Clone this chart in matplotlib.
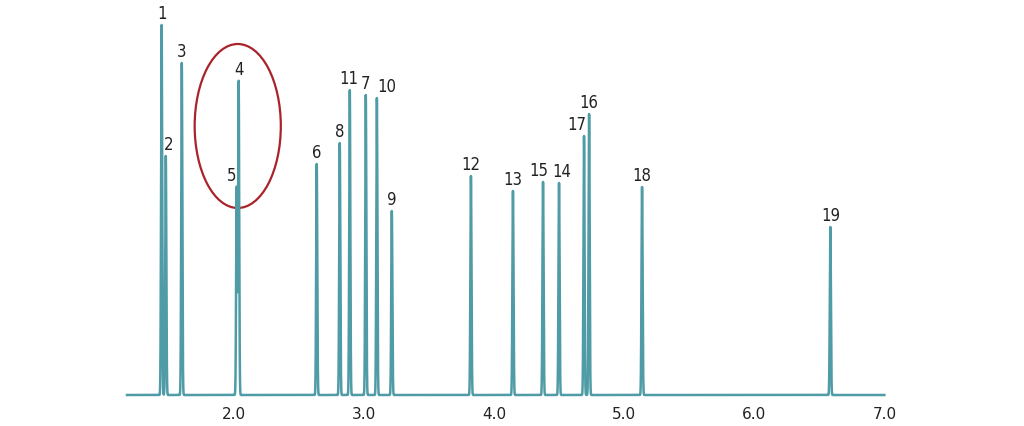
import numpy as np
import matplotlib
matplotlib.use("Agg")
import matplotlib.pyplot as plt
from matplotlib.patches import Ellipse

# peak table
peak_ids = ["1", "2", "3", "4", "5", "6", "8", "11", "7", "10", "9",
            "12", "13", "15", "14", "17", "16", "18", "19"]
rt_min = [1.446, 1.478, 1.601, 2.038, 2.023, 2.638, 2.815, 2.892, 3.015, 3.100, 3.215,
          3.823, 4.146, 4.377, 4.500, 4.692, 4.731, 5.138, 6.585]
heights = [370, 239, 332, 314, 208, 231, 252, 305, 300, 297, 184,
           219, 204, 213, 212, 259, 281, 208, 168]
x_ticks = [2.0, 3.0, 4.0, 5.0, 6.0, 7.0]
x_start, x_end = 1.18, 7.0

# label nudges in points (layout only)
label_nudge = {"2": (2, 0), "5": (-4, 0), "10": (7, 0), "17": (-5, 0),
               "11": (-1, 0), "15": (-3, 0), "14": (2, 0)}

TEAL = "#4f9ba6"
RED = "#a8232a"

t = np.linspace(x_start, x_end, 30000)
sig = np.zeros_like(t)
for rt, h in zip(rt_min, heights):
    sig += h * np.exp(-0.5 * ((t - rt) / 0.0042) ** 2)

fig = plt.figure(figsize=(10.24, 4.27), dpi=100)
ax = fig.add_axes([127 / 1024, 31 / 427, (885 - 127) / 1024, 396 / 427])
ax.plot(t, sig, color=TEAL, lw=1.8, solid_joinstyle="round", clip_on=False)

for pid, rt, h in zip(peak_ids, rt_min, heights):
    dx, dy = label_nudge.get(pid, (0, 0))
    ax.annotate(pid, (rt, h), xytext=(dx, 2 + dy), textcoords="offset points",
                ha="center", va="bottom", fontsize=12, color="#222222",
                family="DejaVu Sans", stretch="condensed")

ax.add_patch(Ellipse((2.031, 269), width=0.662, height=164, fill=False,
                     edgecolor=RED, lw=1.6))

ax.set_xlim(x_start, x_end + 0.005)
ax.set_ylim(0, 396)
ax.set_xticks(x_ticks)
ax.set_xticklabels([f"{v:.1f}" for v in x_ticks])
ax.tick_params(axis="x", length=0, pad=8, labelsize=11, labelcolor="#222222")
ax.set_yticks([])
for s in ax.spines.values():
    s.set_visible(False)

fig.savefig("out.png", dpi=100)
